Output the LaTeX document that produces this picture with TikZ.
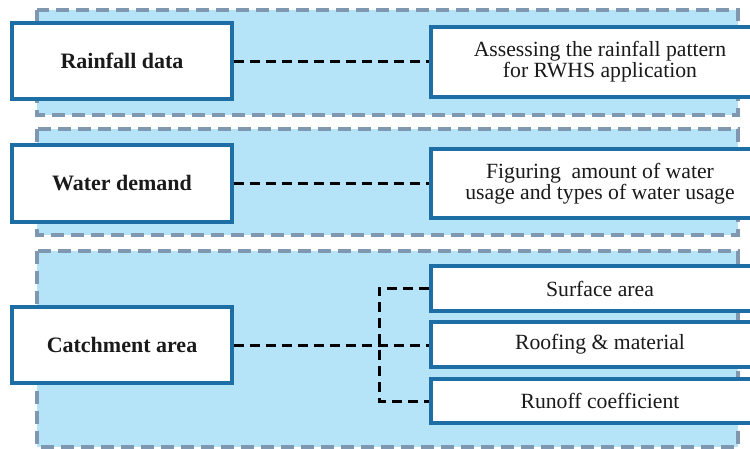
\documentclass[tikz,border=0pt]{standalone}
\usepackage{fontspec}
\setmainfont{Liberation Serif}
\definecolor{panelfill}{HTML}{B5E3F8}
\definecolor{paneledge}{HTML}{7F97B0}
\definecolor{boxedge}{HTML}{1E6EA6}
\definecolor{txt}{HTML}{1A1A1A}
\tikzset{
  panel/.style={fill=panelfill, draw=paneledge, line width=3.2pt, dash pattern=on 13pt off 7pt},
  mainbox/.style={draw=boxedge, fill=white, line width=3.6pt, minimum width=220pt, minimum height=76pt, inner sep=0pt, font=\fontsize{22}{19}\selectfont\bfseries, text=txt},
  descbox/.style={draw=boxedge, fill=white, line width=3.6pt, minimum width=338pt, inner sep=0pt, align=center, font=\fontsize{21.7}{19.5}\selectfont, text=txt},
  link/.style={draw=black, line width=3pt, dash pattern=on 10pt off 6pt}
}
\begin{document}
\begin{tikzpicture}[x=1pt,y=-1pt]
\useasboundingbox (0,0) rectangle (750,448);
\fill[white] (0,0) rectangle (750,448);
% panels
\draw[panel] (37,10) rectangle (738,115);
\draw[panel] (37,129) rectangle (738,235);
\draw[panel] (37,251) rectangle (738,447);
% left boxes
\node[mainbox] (a1) at (122,61) {Rainfall data};
\node[mainbox, minimum height=77pt] (a2) at (122,183.5) {Water demand};
\node[mainbox] (a3) at (122,345) {Catchment area};
% right boxes
\node[descbox, minimum height=70pt] (b1) at (600,62) {Assessing the rainfall pattern\\for RWHS application};
\node[descbox, minimum height=69pt] (b2) at (600,183.5) {Figuring\ \ amount of water\\usage and types of water usage};
\node[descbox, minimum height=45pt] (c1) at (600,288.5) {Surface area};
\node[descbox, minimum height=45pt] (c2) at (600,344.5) {Roofing \& material};
\node[descbox, minimum height=44pt] (c3) at (600,401) {Runoff coefficient};
% connectors
\coordinate (jt) at (379,288.5);
\coordinate (jb) at (379,401);
\draw[link] (a1.east) -- (b1.west |- a1.east);
\draw[link] (a2.east) -- (b2.west |- a2.east);
\draw[link] (a3.east) -- (c2.west |- a3.east);
\draw[link] (c1.west) -- (jt) -- (jb) -- (c3.west);
\end{tikzpicture}
\end{document}
